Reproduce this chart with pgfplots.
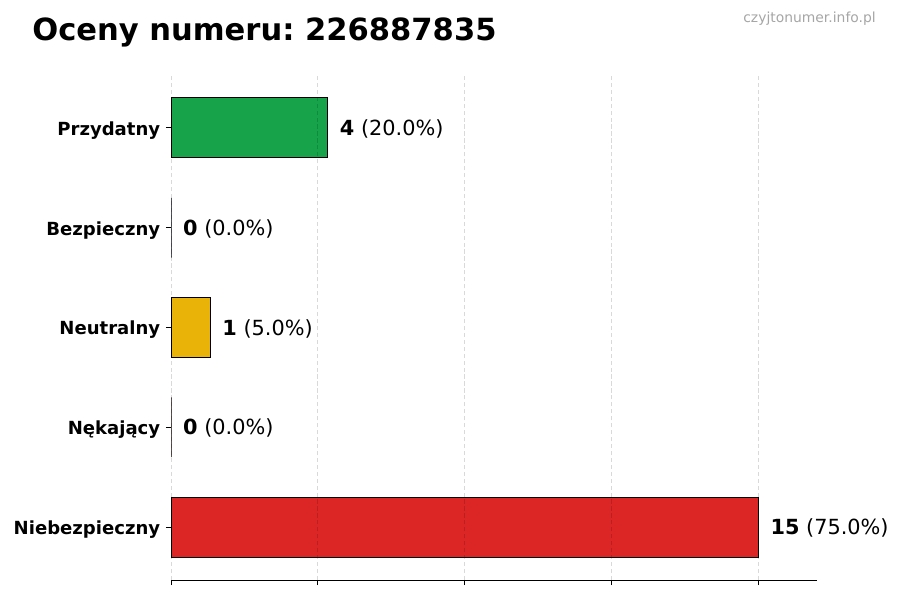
\documentclass[border=0pt]{standalone}
\usepackage{fontspec}
\setmainfont{DejaVu Sans}
\usepackage{pgfplots}
\pgfplotsset{compat=1.18}
\definecolor{cgreen}{HTML}{16A34A}
\definecolor{cblue}{HTML}{2563EB}
\definecolor{cyellow}{HTML}{EAB308}
\definecolor{corange}{HTML}{EA580C}
\definecolor{cred}{HTML}{DC2626}
\frenchspacing

\begin{document}
\begin{tikzpicture}[x=0.72pt,y=0.72pt]
\useasboundingbox (0,0) rectangle (900,600);
% title and watermark
\node[anchor=base west, inner sep=0, font=\fontsize{22}{26}\selectfont\bfseries] at (32,559) {Oceny numeru: 226887835};
\node[anchor=east, inner sep=0, font=\fontsize{10}{12}\selectfont, text=black!35] at (876,581) {czyjtonumer.info.pl};

\begin{axis}[
    at={(123.12pt,14.4pt)}, anchor=south west,
    scale only axis,
    width=465.12pt, height=363.6pt,
    xbar, bar width=0.6, bar shift=0pt,
    xmin=0, xmax=16.5,
    ymin=-0.53, ymax=4.53,
    xtick={0,3.75,7.5,11.25,15},
    xticklabels={},
    ytick={0,1,2,3,4},
    yticklabels={Niebezpieczny,Nękający,Neutralny,Bezpieczny,Przydatny},
    yticklabel style={font=\fontsize{13}{15}\selectfont\bfseries, inner sep=0pt, xshift=-4pt, yshift=-1.8pt},
    axis x line*=bottom,
    axis y line*=left,
    y axis line style={draw=none},
    x axis line style={line width=0.7pt},
    tick align=outside,
    major tick length=3.6pt,
    tick style={black, line width=0.6pt},
    xmajorgrids=true,
    grid style={dash pattern=on 3pt off 2pt, black, opacity=0.15, line width=0.6pt},
    axis on top,
    clip=false,
    point meta=explicit symbolic,
    nodes near coords,
    every node near coord/.append style={font=\fontsize{15}{18}\selectfont, anchor=west, inner sep=0pt, xshift=8.5pt, yshift=-0.8pt, text=black},
]
\addplot[fill=cgreen, draw=black, line width=0.7pt] coordinates {(4,4) [\textbf{4} (20.0\%)]};
\addplot[fill=cblue, draw=black, line width=0.6pt] coordinates {(0,3) [\textbf{0} (0.0\%)]};
\addplot[fill=cyellow, draw=black, line width=0.7pt] coordinates {(1,2) [\textbf{1} (5.0\%)]};
\addplot[fill=corange, draw=black, line width=0.6pt] coordinates {(0,1) [\textbf{0} (0.0\%)]};
\addplot[fill=cred, draw=black, line width=0.7pt] coordinates {(15,0) [\textbf{15} (75.0\%)]};
\end{axis}
\end{tikzpicture}
\end{document}
